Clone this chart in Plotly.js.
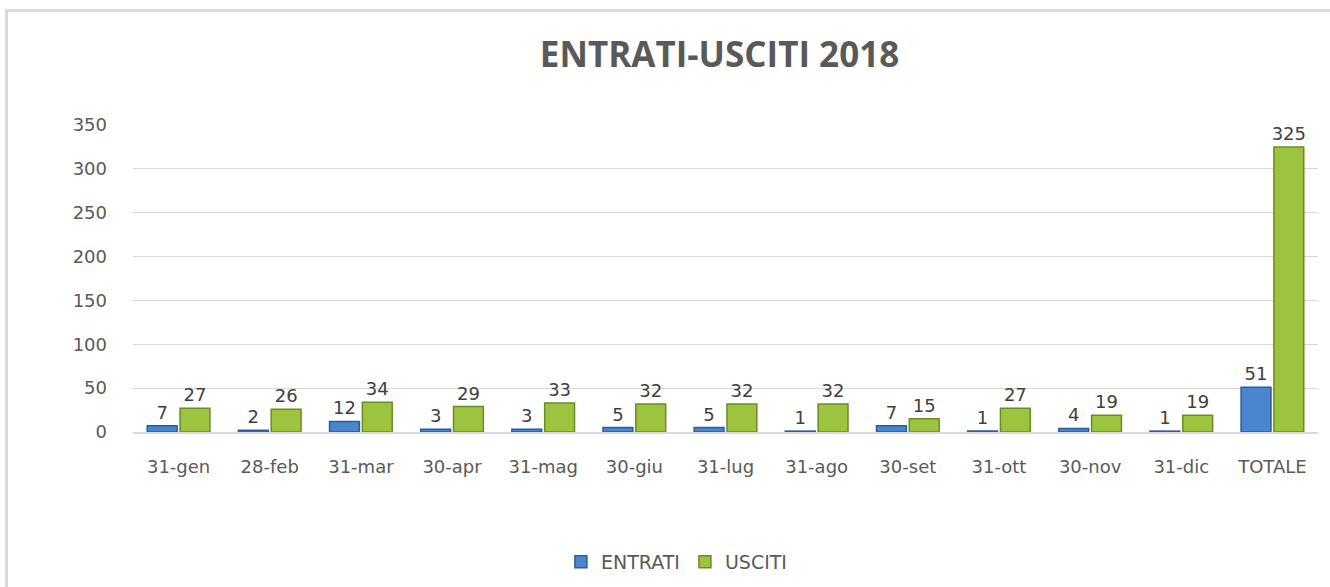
<!DOCTYPE html>
<html>
<head>
<meta charset="utf-8">
<script src="https://cdn.plot.ly/plotly-3.0.1.min.js"></script>
<style>
  body { margin: 0; background: #fff; }
  #chart { width: 1330px; height: 587px; }
  #frame { position: absolute; left: 5px; top: 9px; width: 1330px; height: 590px;
           border-left: 3px solid #d9d9d9; border-top: 3px solid #d9d9d9; pointer-events: none; }
</style>
</head>
<body>
<div id="chart"></div>
<div id="frame"></div>
<script>
// months (end of month dates) + total
var categories = ["31-gen", "28-feb", "31-mar", "30-apr", "31-mag", "30-giu", "31-lug",
                  "31-ago", "30-set", "31-ott", "30-nov", "31-dic", "TOTALE"];
var entrati = [7, 2, 12, 3, 3, 5, 5, 1, 7, 1, 4, 1, 51];
var usciti = [27, 26, 34, 29, 33, 32, 32, 32, 15, 27, 19, 19, 325];
var yTicks = [0, 50, 100, 150, 200, 250, 300, 350];

var labelFont = {family: "DejaVu Sans, sans-serif", size: 18, color: "#404040"};

var trace1 = {
    x: categories,
    y: entrati,
    name: "ENTRATI",
    type: "bar",
    text: entrati.map(String),
    textposition: "outside",
    textangle: 0,
    constraintext: "none",
    textfont: labelFont,
    cliponaxis: false,
    marker: {color: "#4a86d0", line: {color: "#2c5c9c", width: 1.5}}
};

var trace2 = {
    x: categories,
    y: usciti,
    name: "USCITI",
    type: "bar",
    text: usciti.map(String),
    textposition: "outside",
    textangle: 0,
    constraintext: "none",
    textfont: labelFont,
    cliponaxis: false,
    marker: {color: "#9cc43e", line: {color: "#6b8c26", width: 1.5}}
};

var layout = {
    width: 1330,
    height: 587,
    margin: {l: 133, r: 12, t: 125, b: 155, autoexpand: false},
    paper_bgcolor: "#ffffff",
    plot_bgcolor: "#ffffff",
    font: {family: "DejaVu Sans, sans-serif", color: "#595959"},
    title: {
        text: "<b>ENTRATI-USCITI 2018</b>",
        font: {family: "Open Sans, sans-serif", size: 35, color: "#595959"},
        xref: "container", yref: "container",
        x: 0.541, y: 0.906, xanchor: "center", yanchor: "middle"
    },
    barmode: "group",
    bargap: 0.28,
    bargroupgap: 0.09,
    xaxis: {
        showgrid: false,
        showline: true,
        linecolor: "#d9d9d9",
        linewidth: 1.5,
        ticks: "",
        ticklabelstandoff: 18,
        tickfont: {size: 18, color: "#595959"}
    },
    yaxis: {
        range: [0, 350],
        tickvals: yTicks,
        showgrid: true,
        gridcolor: "#d9d9d9",
        zeroline: false,
        showline: false,
        ticks: "",
        ticklabelstandoff: 25,
        tickfont: {size: 18, color: "#595959"}
    },
    showlegend: true,
    legend: {
        orientation: "h",
        x: 0.459, xanchor: "center",
        y: -0.423, yanchor: "middle",
        font: {size: 19, color: "#595959"},
        itemwidth: 30,
        tracegroupgap: 0
    }
};

Plotly.newPlot("chart", [trace1, trace2], layout, {displayModeBar: false});
</script>
</body>
</html>
